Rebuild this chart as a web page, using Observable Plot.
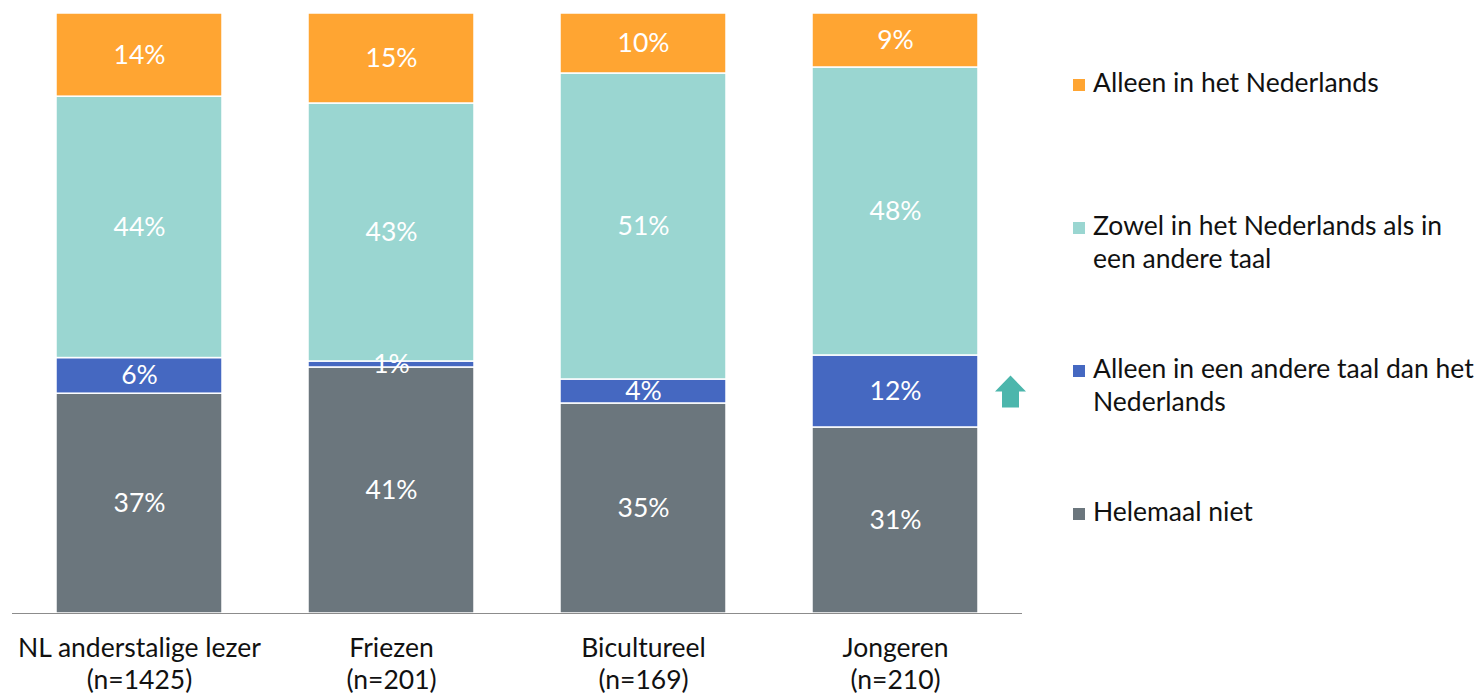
<!DOCTYPE html>
<html><head><meta charset="utf-8">
<script src="https://cdn.jsdelivr.net/npm/d3@7"></script>
<script src="https://cdn.jsdelivr.net/npm/@observablehq/plot@0.6"></script>
<style>
body{margin:0;background:#fff;font-family:Lato,"Open Sans",sans-serif;}
#wrap{position:relative;width:1484px;height:695px;overflow:hidden;}
.item{position:absolute;left:1073px;width:411px;font-size:26.5px;line-height:33px;color:#111;white-space:pre-line;}
.item .sw{position:absolute;left:0;top:13px;width:12px;height:12px;}
.item .tx{position:absolute;left:20px;top:0;width:420px;}
</style></head><body><div id="wrap"></div>
<script>
const categories = ["NL anderstalige lezer\n(n=1425)", "Friezen\n(n=201)", "Bicultureel\n(n=169)", "Jongeren\n(n=210)"];
const series = ["Helemaal niet", "Alleen in een andere taal dan het\nNederlands", "Zowel in het Nederlands als in\neen andere taal", "Alleen in het Nederlands"];
const colors = ["#6b767d", "#4568c1", "#9ad6d1", "#ffa532"];
const helemaalNiet = [37, 41, 35, 31];
const alleenAndereTaal = [6, 1, 4, 12];
const zowel = [44, 43, 51, 48];
const alleenNederlands = [14, 15, 10, 9];
const arrowCategory = "Jongeren\n(n=210)";
const arrowSeries = series[1];

const seriesValues = [helemaalNiet, alleenAndereTaal, zowel, alleenNederlands];
const data = [];
categories.forEach((c, i) => series.forEach((s, j) => data.push({category: c, series: s, value: seriesValues[j][i]})));

// arrow annotation at the middle of the highlighted segment
const ai = categories.indexOf(arrowCategory);
const aj = series.indexOf(arrowSeries);
const total = seriesValues.reduce((a, v) => a + v[ai], 0);
const below = seriesValues.slice(0, aj).reduce((a, v) => a + v[ai], 0);
const arrowData = [{category: arrowCategory, y: (below + seriesValues[aj][ai] / 2) / total}];

const arrowSymbol = {
  draw(ctx) {
    ctx.moveTo(0, -16);
    ctx.lineTo(15.5, 0);
    ctx.lineTo(8.5, 0);
    ctx.lineTo(8.5, 16);
    ctx.lineTo(-8.5, 16);
    ctx.lineTo(-8.5, 0);
    ctx.lineTo(-15.5, 0);
    ctx.closePath();
  }
};

const chart = Plot.plot({
  width: 1484,
  height: 695,
  marginTop: 13,
  marginBottom: 82,
  marginLeft: 12,
  marginRight: 462,
  style: {fontFamily: "Lato, sans-serif", background: "#fff"},
  x: {domain: categories, paddingInner: 0.34, paddingOuter: 0.17, label: null},
  y: {axis: null, domain: [0, 1]},
  color: {domain: series, range: colors},
  marks: [
    Plot.barY(data, Plot.stackY({x: "category", y: "value", fill: "series", z: "series", offset: "normalize", stroke: "white", strokeWidth: 1.5})),
    Plot.text(data, Plot.stackY({x: "category", y: "value", z: "series", offset: "normalize", text: d => d.value + "%", fill: "white", fontSize: 26.5})),
    Plot.ruleY([0], {stroke: "#8c8c8c", strokeWidth: 1.2}),
    Plot.axisX({tickSize: 0, tickPadding: 20, fontSize: 26.5, lineHeight: 1.23, fill: "#111", label: null}),
    Plot.dot(arrowData, {x: "category", y: "y", dx: 115, symbol: arrowSymbol, fill: "#4cb6ac", stroke: "none"})
  ]
});
const wrap = document.getElementById("wrap");
wrap.appendChild(chart);

// legend (top to bottom: reverse stacking order)
const legendOrder = series.map((s, j) => j).reverse();
legendOrder.forEach((j, k) => {
  const it = document.createElement("div");
  it.className = "item";
  it.style.top = (66 + k * 143) + "px";
  const sw = document.createElement("div");
  sw.className = "sw";
  sw.style.background = colors[j];
  const tx = document.createElement("div");
  tx.className = "tx";
  tx.textContent = series[j];
  it.appendChild(sw); it.appendChild(tx);
  wrap.appendChild(it);
});
</script></body></html>
